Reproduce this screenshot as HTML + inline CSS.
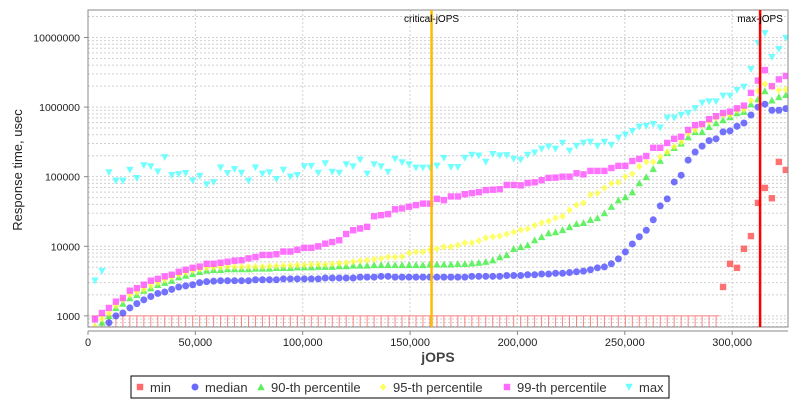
<!DOCTYPE html>
<html><head><meta charset="utf-8"><style>
body{margin:0;background:#fff;}
svg{display:block;font-family:"Liberation Sans",sans-serif;}
</style></head><body>
<svg id="chart" width="800" height="400">
<defs><clipPath id="pc"><rect x="88" y="10" width="700" height="317"/></clipPath></defs>
<rect x="88" y="10" width="700" height="317" fill="#fff"/>
<g id="grid"></g>
<g id="marks" clip-path="url(#pc)"></g>
<rect x="88" y="10" width="700" height="317" fill="none" stroke="#888"/>
<g id="axes"></g>
<text x="438" y="362" text-anchor="middle" font-size="14" font-weight="bold" fill="#444">jOPS</text>
<text transform="translate(22,170) rotate(-90)" text-anchor="middle" font-size="13" fill="#222">Response time, usec</text>
<g id="legend">
<rect x="131" y="376" width="538" height="22" fill="#fff" stroke="#000"/>
</g>
</svg>
<script>
const jops=[3250,6500,9750,13000,16250,19500,22750,26000,29250,32500,35750,39000,42250,45500,48750,52000,55250,58500,61750,65000,68250,71500,74750,78000,81250,84500,87750,91000,94250,97500,100750,104000,107250,110500,113750,117000,120250,123500,126750,130000,133250,136500,139750,143000,146250,149500,152750,156000,159250,162500,165750,169000,172250,175500,178750,182000,185250,188500,191750,195000,198250,201500,204750,208000,211250,214500,217750,221000,224250,227500,230750,234000,237250,240500,243750,247000,250250,253500,256750,260000,263250,266500,269750,273000,276250,279500,282750,286000,289250,292500,295750,299000,302250,305500,308750,312000,315250,318500,321750,325000];
const minVals=[null,null,null,null,null,null,null,null,null,null,null,null,null,null,null,null,null,null,null,null,null,null,null,null,null,null,null,null,null,null,null,null,null,null,null,null,null,null,null,null,null,null,null,null,null,null,null,null,null,null,null,null,null,null,null,null,null,null,null,null,null,null,null,null,null,null,null,null,null,null,null,null,null,null,null,null,null,null,null,null,null,null,null,null,null,null,null,null,null,null,2600,5600,4900,9200,14000,42000,69000,49000,163000,125000];
const lowMinCount=90;
const medianVals=[null,null,800,1000,1100,1300,1500,1700,1900,2100,2200,2400,2600,2700,2800,3000,3100,3150,3200,3200,3200,3200,3200,3300,3300,3300,3300,3400,3400,3400,3400,3400,3400,3500,3500,3500,3500,3500,3600,3600,3600,3700,3700,3600,3600,3600,3600,3600,3600,3600,3600,3600,3600,3600,3700,3700,3700,3700,3700,3800,3800,3800,3900,3900,4000,4000,4100,4100,4200,4300,4400,4600,4900,5050,5600,6600,8300,10800,13700,17000,24000,38000,48000,84000,105000,173000,226000,275000,330000,350000,440000,455000,530000,590000,770000,1000000,1100000,900000,900000,950000];
const p90Vals=[null,800,1000,1300,1500,1800,2000,2300,2500,2800,3000,3200,3600,3800,4000,4300,4500,4600,4600,4700,4700,4700,4700,4800,4800,4800,4900,4900,4900,5000,5000,5000,5100,5100,5100,5200,5200,5300,5300,5300,5400,5400,5400,5400,5400,5400,5400,5400,5500,5500,5500,5500,5600,5600,5700,5800,6000,6300,7000,7500,9200,9800,10400,12300,13600,15500,16000,17200,19000,21000,21700,24000,25500,30000,37000,46000,51000,60000,81000,99000,130000,170000,220000,260000,300000,370000,440000,440000,520000,590000,650000,720000,820000,860000,1100000,1300000,1700000,1250000,1400000,1500000];
const p95Vals=[700,900,1100,1400,1700,2000,2200,2400,2700,3000,3300,3600,3900,4200,4500,4700,4900,5000,5000,5100,5100,5100,5100,5100,5100,5200,5200,5300,5300,5400,5400,5500,5500,5500,5600,5700,5800,6000,6200,6300,6500,6700,7000,7000,7100,8000,8300,8300,8900,9200,9800,9800,10400,11200,11200,12000,13200,13700,14000,15000,16000,17200,17800,20000,21700,23000,25500,27000,33000,39000,42000,55000,58000,69000,80000,83000,100000,110000,140000,163000,163000,193000,226000,270000,315000,420000,470000,550000,615000,700000,770000,770000,900000,930000,1250000,1700000,2150000,1950000,1750000,1800000];
const p99Vals=[900,1100,1300,1600,1800,2300,2500,2800,3200,3400,3700,3900,4300,4600,4900,5100,5600,5600,5800,6000,6200,6300,6700,7000,7500,7500,7700,8400,8400,8900,9500,9500,10000,10900,11500,12200,15000,17000,18000,19000,27000,28000,29000,34000,35000,37000,39000,41000,41000,48000,46000,52000,52000,56000,58000,60000,64000,65000,66000,76000,76000,75000,81000,83000,89000,96000,97000,100000,100000,112000,108000,121000,121000,121000,133000,143000,143000,168000,180000,198000,260000,260000,305000,350000,375000,470000,550000,570000,670000,740000,820000,860000,960000,1050000,1600000,2400000,3400000,2000000,2500000,2800000];
const maxVals=[3200,4400,115000,87000,87000,125000,95000,145000,140000,118000,190000,105000,108000,112000,88000,102000,77000,83000,135000,112000,128000,113000,87000,135000,110000,115000,92000,125000,100000,105000,140000,142000,113000,155000,117000,113000,150000,140000,175000,110000,150000,140000,117000,180000,160000,150000,134000,134000,134000,143000,185000,137000,137000,185000,205000,200000,163000,210000,200000,203000,180000,175000,205000,220000,250000,270000,250000,305000,235000,275000,305000,315000,275000,315000,285000,360000,400000,450000,520000,535000,570000,505000,700000,700000,770000,820000,960000,1150000,1200000,1200000,1450000,1450000,1750000,1950000,3500000,8300000,11500000,5200000,6800000,9800000];
const xTicks=[0,50000,100000,150000,200000,250000,300000];
const xTickLabels=["0","50,000","100,000","150,000","200,000","250,000","300,000"];
const yTicks=[1000,10000,100000,1000000,10000000];
const yTickLabels=["1000","10000","100000","1000000","10000000"];
const criticalJops=160000, maxJops=313000;

const NS="http://www.w3.org/2000/svg";
const X0=88,X1=788,Y0=10,Y1=327;
const XMAX=326000;
function xs(v){return X0+v/XMAX*(X1-X0);}
const LMIN=2.84,LMAX=7.395;
function ys(v){return Y1-(Math.log10(v)-LMIN)/(LMAX-LMIN)*(Y1-Y0);}
function mk(tag,attrs,parent){const e=document.createElementNS(NS,tag);for(const k in attrs)e.setAttribute(k,attrs[k]);parent.appendChild(e);return e;}
const grid=document.getElementById('grid'),marks=document.getElementById('marks'),axes=document.getElementById('axes'),legend=document.getElementById('legend');

for(let d=2;d<=7;d++){for(let m=1;m<=9;m++){const v=m*Math.pow(10,d);const y=ys(v);if(y<Y0||y>Y1)continue;
 const l=mk('line',{x1:X0,x2:X1,y1:y,y2:y,stroke:'#d0d0d0','stroke-width':1,'stroke-dasharray':'2,2'},grid);
 
 }}
yTicks.forEach((v,i)=>{const y=ys(v);
 const t=mk('text',{x:X0-8,y:y+4,'text-anchor':'end','font-size':10.5,fill:'#222'},axes);t.textContent=yTickLabels[i];
 
 
 mk('line',{x1:X0-4,x2:X0,y1:y,y2:y,stroke:'#888'},axes);});
const xl=mk('line',{x1:X0,x2:X1,y1:331,y2:331,stroke:'#888'},axes);


xTicks.forEach((v,i)=>{const x=xs(v);
 if(v>0){const g=mk('line',{x1:x,x2:x,y1:Y0,y2:Y1,stroke:'#d0d0d0','stroke-dasharray':'2,2'},grid);
 
 }
 mk('line',{x1:x,x2:x,y1:331,y2:335,stroke:'#888'},axes);
 const t=mk('text',{x:x,y:346,'text-anchor':'middle','font-size':11,fill:'#222'},axes);t.textContent=xTickLabels[i];
 
 });

const y1k=ys(1000);
for(let i=0;i<lowMinCount;i++){const x=xs(jops[i]);
 const g=mk('path',{d:`M${x-3.5},${y1k}H${x+3.5}M${x},${y1k}V${Y1}`,stroke:'#ff6666','stroke-width':1,fill:'none',opacity:0.8},marks);
 
 }

function shape(kind,x,y,color,parent){let e;const s=3.2;
 if(kind==='square')e=mk('rect',{x:x-s,y:y-s,width:2*s,height:2*s,fill:color},parent);
 else if(kind==='circle')e=mk('circle',{cx:x,cy:y,r:s+0.3,fill:color},parent);
 else if(kind==='up')e=mk('path',{d:`M${x},${y-s-0.5}L${x+s+0.5},${y+s}L${x-s-0.5},${y+s}Z`,fill:color},parent);
 else if(kind==='diamond')e=mk('path',{d:`M${x},${y-s-0.5}L${x+s},${y}L${x},${y+s+0.5}L${x-s},${y}Z`,fill:color},parent);
 else e=mk('path',{d:`M${x-s-0.5},${y-s}L${x+s+0.5},${y-s}L${x},${y+s+0.5}Z`,fill:color},parent);
 return e;}
const series=[
 {name:'min',vals:minVals,kind:'square',color:'#ff4444'},
 {name:'median',vals:medianVals,kind:'circle',color:'#4444ff'},
 {name:'90-th percentile',vals:p90Vals,kind:'up',color:'#33ee33'},
 {name:'95-th percentile',vals:p95Vals,kind:'diamond',color:'#ffff33'},
 {name:'99-th percentile',vals:p99Vals,kind:'square',color:'#ff44ff'},
 {name:'max',vals:maxVals,kind:'down',color:'#44ffff'}];
series.forEach(s=>{const g=mk('g',{opacity:0.75},marks);
 
 
 s.vals.forEach((v,i)=>{if(v==null)return;const e=shape(s.kind,xs(jops[i]),ys(v),s.color,g);
  
  });});

[[criticalJops,'#ffbb00','critical-jOPS'],[maxJops,'#ff0000','max-jOPS']].forEach(r=>{const x=xs(r[0]);
 const l=mk('line',{x1:x,x2:x,y1:Y0,y2:Y1,stroke:r[1],'stroke-width':2.5},axes);
 
 
 const t=mk('text',{x:x,y:22,'text-anchor':'middle','font-size':10,fill:'#000'},axes);t.textContent=r[2];
 
 });

const lx=[140,195,261,383,507,629];
series.forEach((s,i)=>{const e=shape(s.kind,lx[i],387,s.color,legend);e.setAttribute('opacity',0.8);
 
 
 const t=mk('text',{x:lx[i]+10,y:392,'font-size':13,fill:'#333'},legend);t.textContent=s.name;
 
 });
</script>
</body></html>
